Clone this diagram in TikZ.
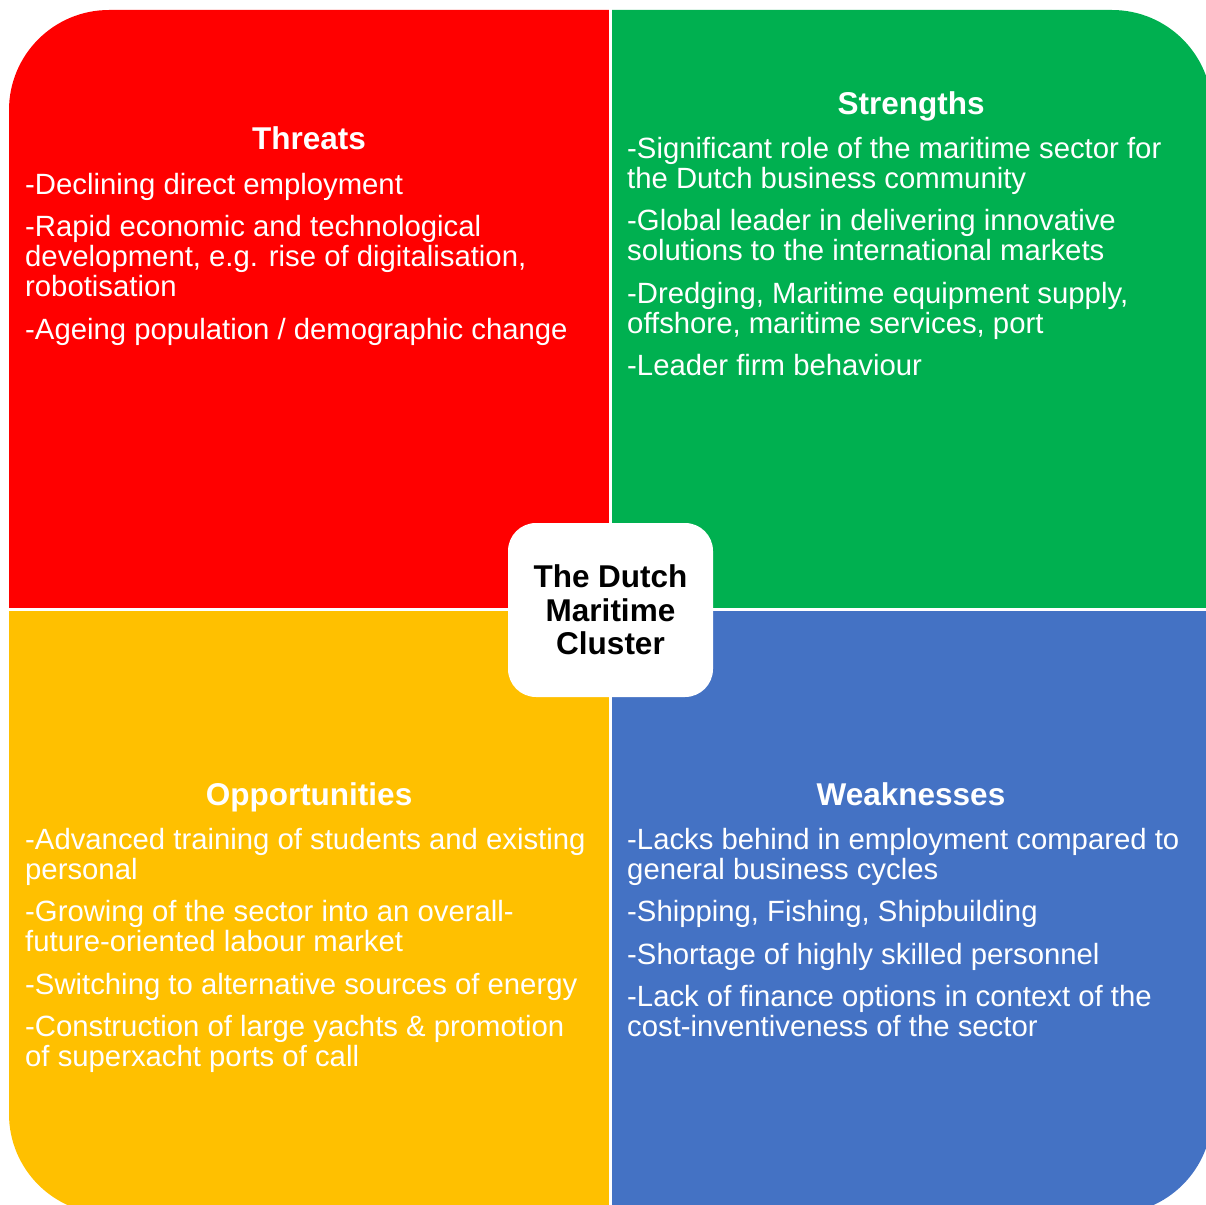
\documentclass[tikz,border=0pt]{standalone}
\usepackage{fontspec}
\setmainfont{Liberation Sans}
\definecolor{qred}{HTML}{FF0000}
\definecolor{qgreen}{HTML}{00B050}
\definecolor{qyellow}{HTML}{FFC000}
\definecolor{qblue}{HTML}{4472C4}
\begin{document}
\begin{tikzpicture}[x=1pt,y=-1pt,
  heading/.style={text=white,inner sep=0pt,anchor=base,
    font=\fontsize{31.5}{33.5}\selectfont\bfseries},
  % anchored at the baseline of the last line of each list
  bodytext/.style={text=white,inner sep=0pt,anchor=base west,align=left,
    font=\fontsize{29.3}{30}\selectfont},
  hub/.style={fill=white,rounded corners=28pt,align=center,inner sep=0pt,
    font=\fontsize{31.5}{33.5}\selectfont\bfseries}]
\useasboundingbox (0,0) rectangle (1206,1204);
\clip (0,0) rectangle (1206,1204);

% four quadrants cut from one large rounded square
\begin{scope}
  \clip[rounded corners=100pt] (9,10) rectangle (1212,1214);
  \fill[qred]    (0,0)     rectangle (609,608);
  \fill[qgreen]  (612,0)   rectangle (1220,608);
  \fill[qyellow] (0,611)   rectangle (609,1220);
  \fill[qblue]   (612,611) rectangle (1220,1220);
\end{scope}

% Threats
\node[heading]  (threats-title) at (309,149) {Threats};
\node[bodytext] (threats-body)  at (25,339)
  {-Declining direct employment\\[12.5pt]
   -Rapid economic and technological\\
   development, e.g. rise of digitalisation,\\
   robotisation\\[12.5pt]
   -Ageing population / demographic change};

% Strengths
\node[heading]  (strengths-title) at (911,114) {Strengths};
\node[bodytext] (strengths-body)  at (627,375.5)
  {-Significant role of the maritime sector for\\
   the Dutch business community\\[12.5pt]
   -Global leader in delivering innovative\\
   solutions to the international markets\\[12.5pt]
   -Dredging, Maritime equipment supply,\\
   offshore, maritime services, port\\[12.5pt]
   -Leader firm behaviour};

% Opportunities
\node[heading]  (opportunities-title) at (309,805) {Opportunities};
\node[bodytext] (opportunities-body)  at (25,1066.5)
  {-Advanced training of students and existing\\
   personal\\[12.5pt]
   -Growing of the sector into an overall-\\
   future-oriented labour market\\[12.5pt]
   -Switching to alternative sources of energy\\[12.5pt]
   -Construction of large yachts \& promotion\\
   of superxacht ports of call};

% Weaknesses
\node[heading]  (weaknesses-title) at (911,805) {Weaknesses};
\node[bodytext] (weaknesses-body)  at (627,1036.5)
  {-Lacks behind in employment compared to\\
   general business cycles\\[12.5pt]
   -Shipping, Fishing, Shipbuilding\\[12.5pt]
   -Shortage of highly skilled personnel\\[12.5pt]
   -Lack of finance options in context of the\\
   cost-inventiveness of the sector};

% central label
\node[hub,minimum width=205pt,minimum height=174pt] (cluster) at (610.5,610)
  {The Dutch\\Maritime\\Cluster};
\end{tikzpicture}
\end{document}
